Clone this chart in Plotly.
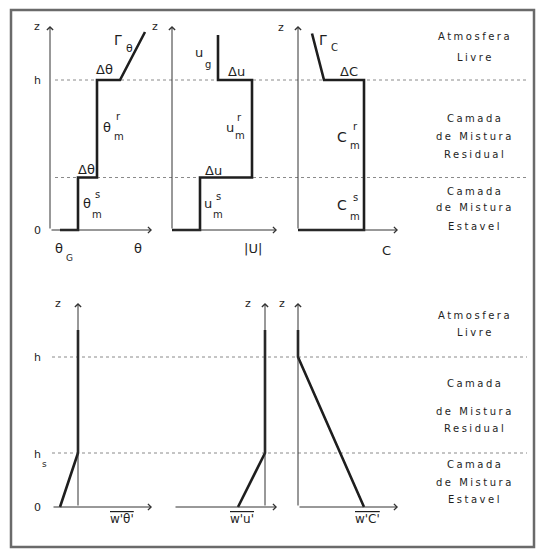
import plotly.graph_objects as go

W, H = 537, 550
FONT = "DejaVu Sans"
INK = "#1e1e1e"

# niveis (z normalizado por h)
h_top, hs_top = 1.0, 0.35
h_bot, hs_bot = 1.0, 0.36
z_arrow = 1.36

# perfis medios (linhas grossas)
theta_x = [1.0, 2.8, 2.8, 4.7, 4.7, 7.0, 9.5]
theta_z = [0, 0, 0.35, 0.35, 1.0, 1.0, 1.32]
u_x = [0, 2.8, 2.8, 8.0, 8.0, 4.6, 4.6]
u_z = [0, 0, 0.35, 0.35, 1.0, 1.0, 1.3]
c_x = [0, 6.6, 6.6, 2.6, 1.4]
c_z = [0, 0, 1.0, 1.0, 1.31]

# fluxos turbulentos
wt_x = [-1.8, 0, 0]
wt_z = [0, 0.36, 1.18]
wu_x = [-2.7, 0, 0]
wu_z = [0, 0.36, 1.18]
wc_x = [6.6, 0, 0]
wc_z = [0, 1.0, 1.18]

# eixos horizontais (inicio, ponta da seta)
top_axes = [(0, 10.2), (0, 10.5), (0, 10.0)]
bot_axes = [(-2.6, 7.4), (-9.1, 1.2), (0, 10.0)]

# paineis: eixo x, origem em px, faixa x, linha
panels = [
    ("x", 50, (-2, 11), "y"),
    ("x2", 172, (-2.5, 11), "y"),
    ("x3", 298, (-2.5, 10.5), "y"),
    ("x4", 78, (-5, 8), "y2"),
    ("x5", 265, (-10, 2), "y2"),
    ("x6", 298, (-2.5, 10.5), "y2"),
]
row_origin = {"y": 230, "y2": 507}
z_range = (-0.25, 1.45)

fig = go.Figure()

profiles = [
    (theta_x, theta_z, "x", "y"),
    (u_x, u_z, "x2", "y"),
    (c_x, c_z, "x3", "y"),
    (wt_x, wt_z, "x4", "y2"),
    (wu_x, wu_z, "x5", "y2"),
    (wc_x, wc_z, "x6", "y2"),
]
for px_, pz_, xa, ya in profiles:
    fig.add_trace(go.Scatter(x=px_, y=pz_, mode="lines", xaxis=xa, yaxis=ya,
                             line=dict(color=INK, width=2.6), hoverinfo="skip",
                             showlegend=False))

annotations = []
shapes = []


def arrow(xa, ya, x0, z0, x1, z1):
    annotations.append(dict(x=x1, y=z1, ax=x0, ay=z0, xref=xa, yref=ya,
                            axref=xa, ayref=ya, text="", showarrow=True,
                            arrowhead=4, arrowsize=1.2, arrowwidth=1,
                            arrowcolor="#333"))


for (xa, _, _, ya), (a0, a1) in zip(panels, top_axes + bot_axes):
    arrow(xa, ya, 0, 0, 0, z_arrow)
    arrow(xa, ya, a0, 0, a1, 0)


def txt(px, py, s, size=12, **kw):
    annotations.append(dict(x=px / W, y=1 - py / H, xref="paper", yref="paper",
                            text=s, showarrow=False, xanchor="center",
                            yanchor="middle",
                            font=dict(size=size, family=FONT, color=INK), **kw))


# linhas pontilhadas
for ya, lev, x0 in [("y", h_top, 55), ("y", hs_top, 55), ("y2", h_bot, 52), ("y2", hs_bot, 52)]:
    shapes.append(dict(type="line", xref="paper", yref=ya, x0=x0 / W, x1=527 / W,
                       y0=lev, y1=lev, layer="below",
                       line=dict(color="#8a8a8a", width=1, dash="dot")))

# moldura
shapes.append(dict(type="rect", xref="paper", yref="paper", x0=11 / W, x1=534 / W,
                   y0=1 - 547 / H, y1=1 - 10 / H, line=dict(color="#6a6a6a", width=2.5)))

# rotulos do painel superior
txt(37, 27, "z", 11)
txt(37, 80, "h", 11)
txt(37, 230, "0", 11)
txt(118, 40, "Γ", 14)
txt(129, 48, "θ", 11)
txt(104, 70, "Δθ", 13)
txt(107, 128, "θ", 13)
txt(118, 116, "r", 10)
txt(119, 136, "m", 10)
txt(86, 169, "Δθ", 13)
txt(87, 204, "θ", 13)
txt(97, 195, "s", 10)
txt(97, 215, "m", 10)
txt(59, 249, "θ", 13)
txt(69, 258, "G", 9)
txt(138, 249, "θ", 13)

txt(155, 27, "z", 11)
txt(199, 53, "u", 13)
txt(208, 65, "g", 10)
txt(236, 72, "Δu", 13)
txt(230, 127, "u", 13)
txt(240, 117, "r", 10)
txt(240, 135, "m", 10)
txt(213, 170, "Δu", 13)
txt(208, 203, "u", 13)
txt(218, 196, "s", 10)
txt(218, 215, "m", 10)
txt(253, 249, "|U|", 13)

txt(281, 28, "z", 11)
txt(323, 40, "Γ", 14)
txt(334, 47, "C", 10)
txt(349, 72, "ΔC", 13)
txt(342, 137, "C", 14)
txt(355, 126, "r", 10)
txt(355, 146, "m", 10)
txt(342, 205, "C", 14)
txt(355, 197, "s", 10)
txt(355, 216, "m", 10)
txt(386, 250, "C", 13)

# rotulos do painel inferior
txt(58, 303, "z", 11)
txt(37, 357, "h", 11)
txt(37, 454, "h", 11)
txt(44, 464, "s", 9)
txt(37, 507, "0", 11)
txt(248, 303, "z", 11)
txt(282, 303, "z", 11)
ov = '<span style="text-decoration:overline">%s</span>'
txt(122, 519, ov % "w'θ'", 12)
txt(242, 519, ov % "w'u'", 12)
txt(367, 519, ov % "w'C'", 12)

# camadas (lado direito)
sp = '<span style="letter-spacing:2.5px">%s</span>'
layers_top = [("Atmosfera", 37), ("Livre", 57), ("Camada", 118), ("de Mistura", 137),
              ("Residual", 155), ("Camada", 191), ("de Mistura", 207), ("Estavel", 226)]
layers_bot = [("Atmosfera", 315), ("Livre", 332), ("Camada", 383), ("de Mistura", 411),
              ("Residual", 428), ("Camada", 464), ("de Mistura", 482), ("Estavel", 499)]
for s, py in layers_top + layers_bot:
    txt(475, py, sp % s, 10)

layout = dict(width=W, height=H, margin=dict(l=0, r=0, t=0, b=0),
              paper_bgcolor="white", plot_bgcolor="rgba(0,0,0,0)",
              annotations=annotations, shapes=shapes, showlegend=False)

for i, (xa, ox, (lo, hi), ya) in enumerate(panels):
    key = "xaxis" if i == 0 else "xaxis%d" % (i + 1)
    layout[key] = dict(domain=[(ox + lo * 10) / W, (ox + hi * 10) / W], range=[lo, hi],
                       anchor=ya, visible=False, fixedrange=True)
for ya, xa in [("y", "x"), ("y2", "x4")]:
    oy = row_origin[ya]
    key = "yaxis" if ya == "y" else "yaxis2"
    top_px = oy - z_range[1] * 150
    bot_px = oy - z_range[0] * 150
    layout[key] = dict(domain=[1 - bot_px / H, 1 - top_px / H], range=list(z_range),
                       anchor=xa, visible=False, fixedrange=True)

fig.update_layout(**layout)
fig.write_html("out.html", config={"displayModeBar": False},
               post_script="document.body.style.margin='0';"
                           "document.body.style.overflow='hidden';")
